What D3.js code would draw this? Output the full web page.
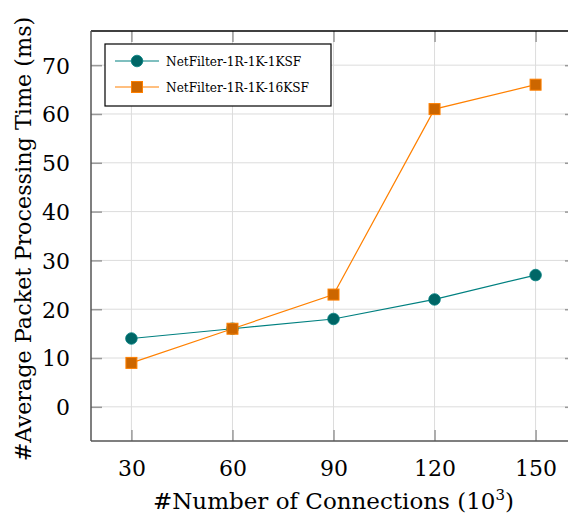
<!DOCTYPE html>
<html>
<head>
<meta charset="utf-8">
<script src="https://cdn.jsdelivr.net/npm/d3@7"></script>
<style>
  body{margin:0;background:#fff;}
  svg{display:block;}
  text{font-family:"DejaVu Serif",serif;fill:#000;}
</style>
</head>
<body>
<script>
// 数据
let connections=[30,60,90,120,150];
let time1KSF=[14,16,18,22,27];
let time16KSF=[9,16,23,61,66];
let seriesNames=["NetFilter-1R-1K-1KSF","NetFilter-1R-1K-16KSF"];
let xTicks=[30,60,90,120,150];
let yTicks=[0,10,20,30,40,50,60,70];

let width=568,height=518;
let pLeft=91,pRight=576,pTop=31,pBottom=441;

let svg=d3.select("body").append("svg").attr("width",width).attr("height",height);

let x=d3.scaleLinear().domain([18,162]).range([pLeft,pRight]);
let y=d3.scaleLinear().domain([-7,77]).range([pBottom,pTop]);

//网格
let grid=svg.append("g");
grid.selectAll(".gx").data(xTicks).enter().append("line")
  .attr("x1",d=>x(d)).attr("x2",d=>x(d)).attr("y1",pTop).attr("y2",pBottom)
  .attr("stroke","#dcdcdc").attr("stroke-width",1);
grid.selectAll(".gy").data(yTicks).enter().append("line")
  .attr("y1",d=>y(d)).attr("y2",d=>y(d)).attr("x1",pLeft).attr("x2",pRight)
  .attr("stroke","#dcdcdc").attr("stroke-width",1);

//坐标轴（刻度朝内）
let xAxis=svg.append("g").attr("transform",`translate(0,${pBottom})`)
  .call(d3.axisBottom(x).tickValues(xTicks).tickSize(-11).tickPadding(19));
let xTop=svg.append("g").attr("transform",`translate(0,${pTop})`)
  .call(d3.axisTop(x).tickValues(xTicks).tickSize(-11).tickFormat(""));
let yAxis=svg.append("g").attr("transform",`translate(${pLeft},0)`)
  .call(d3.axisLeft(y).tickValues(yTicks).tickSize(-11).tickPadding(21));
let yRight=svg.append("g").attr("transform",`translate(${pRight},0)`)
  .call(d3.axisRight(y).tickValues(yTicks).tickSize(-11).tickFormat(""));

[xAxis,xTop,yAxis,yRight].forEach(g=>{
  g.selectAll(".tick line").attr("stroke","#999").attr("stroke-width",1.5);
  g.select(".domain").remove();
  g.selectAll("text").style("font-size","22px").attr("fill","#000");
});
yAxis.selectAll("text").attr("dy","0.36em");

//边框
svg.append("line").attr("x1",pLeft).attr("x2",pRight).attr("y1",pTop).attr("y2",pTop)
  .attr("stroke","#000").attr("stroke-width",1.5);
svg.append("line").attr("x1",pLeft).attr("x2",pLeft).attr("y1",pTop).attr("y2",pBottom)
  .attr("stroke","#555").attr("stroke-width",1.5);
svg.append("line").attr("x1",pLeft).attr("x2",pRight).attr("y1",pBottom).attr("y2",pBottom)
  .attr("stroke","#555").attr("stroke-width",1.5);

//折线
let line=d3.line().x((d,i)=>x(connections[i])).y(d=>y(d));
svg.append("path").datum(time1KSF).attr("d",line)
  .attr("fill","none").attr("stroke","rgb(0,128,128)").attr("stroke-width",1.2);
svg.append("path").datum(time16KSF).attr("d",line)
  .attr("fill","none").attr("stroke","rgb(255,128,0)").attr("stroke-width",1.2);

svg.selectAll(".c").data(time1KSF).enter().append("circle")
  .attr("cx",(d,i)=>x(connections[i])).attr("cy",d=>y(d)).attr("r",5.8)
  .attr("fill","rgb(0,102,102)").attr("stroke","rgb(0,128,128)").attr("stroke-width",0.8);
svg.selectAll(".s").data(time16KSF).enter().append("rect")
  .attr("x",(d,i)=>x(connections[i])-5.5).attr("y",d=>y(d)-5.5)
  .attr("width",11).attr("height",11)
  .attr("fill","rgb(204,102,0)").attr("stroke","rgb(255,128,0)").attr("stroke-width",1);

//图例
let lg=svg.append("g");
lg.append("rect").attr("x",105).attr("y",44).attr("width",226).attr("height",62)
  .attr("fill","#fff").attr("stroke","#000").attr("stroke-width",1.2);
let legendY=[61,87];
lg.append("line").attr("x1",115).attr("x2",159).attr("y1",legendY[0]).attr("y2",legendY[0])
  .attr("stroke","rgb(0,128,128)").attr("stroke-width",1.2);
lg.append("circle").attr("cx",137).attr("cy",legendY[0]).attr("r",5.8)
  .attr("fill","rgb(0,102,102)").attr("stroke","rgb(0,128,128)").attr("stroke-width",0.8);
lg.append("line").attr("x1",115).attr("x2",159).attr("y1",legendY[1]).attr("y2",legendY[1])
  .attr("stroke","rgb(255,128,0)").attr("stroke-width",1.2);
lg.append("rect").attr("x",137-5.5).attr("y",legendY[1]-5.5).attr("width",11).attr("height",11)
  .attr("fill","rgb(204,102,0)").attr("stroke","rgb(255,128,0)").attr("stroke-width",1);
lg.selectAll(".lt").data(seriesNames).enter().append("text")
  .attr("x",166).attr("y",(d,i)=>legendY[i]).attr("dy","0.36em")
  .style("font-family","'DejaVu Serif Condensed','DejaVu Serif',serif")
  .style("font-size","13.5px").text(d=>d);

//轴标题
let xt=svg.append("text").attr("x",(pLeft+pRight)/2).attr("y",509)
  .attr("text-anchor","middle").style("font-size","23px");
xt.append("tspan").text("#Number of Connections (10");
xt.append("tspan").attr("dy","-9").style("font-size","15px").text("3");
xt.append("tspan").attr("dy","9").text(")");

svg.append("text").attr("transform",`translate(31,239) rotate(-90)`)
  .attr("text-anchor","middle").style("font-size","22.3px")
  .text("#Average Packet Processing Time (ms)");
</script>
</body>
</html>
